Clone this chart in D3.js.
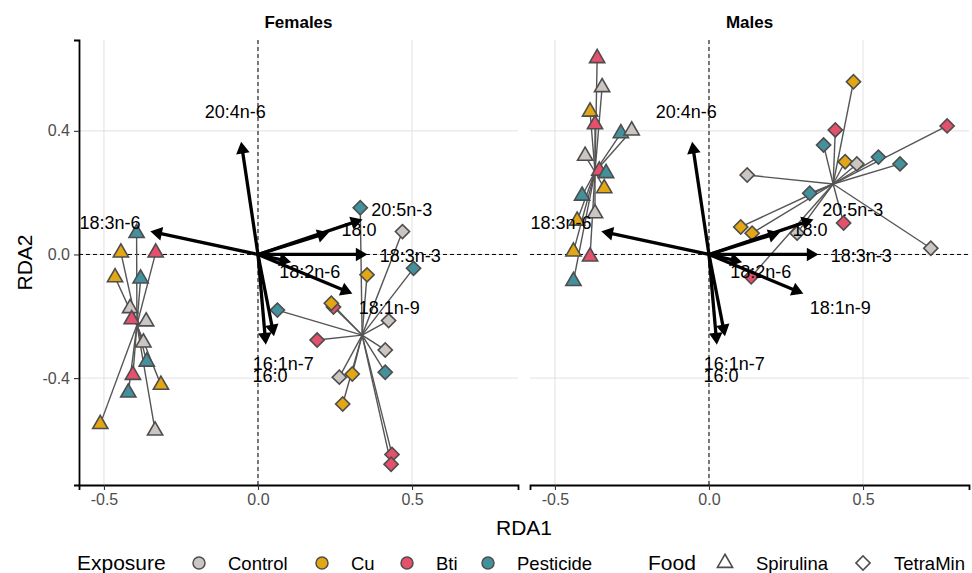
<!DOCTYPE html>
<html>
<head>
<meta charset="utf-8">
<script src="https://cdn.jsdelivr.net/npm/d3@7"></script>
<style>
  body { margin: 0; background: #fff; }
  svg { font-family: "Liberation Sans", Arial, sans-serif; }
</style>
</head>
<body>
<div id="chart"></div>
<script>
// categories
const panels = ["Females", "Males"];
const foods = ["Spirulina", "TetraMin"];
const exposures = ["Control", "Cu", "Bti", "Pesticide"];
const exposureColors = ["#CCC6C3", "#E3A713", "#E5506C", "#43919C"];
const xTicks = [-0.5, 0, 0.5];
const yTicks = [-0.4, 0, 0.4];

// site scores: [exposure, RDA1, RDA2]
const femalesSpirulina = [
    ["Pesticide", -0.394, 0.069], ["Cu", -0.445, 0.006], ["Bti", -0.332, 0.006],
    ["Cu", -0.464, -0.074], ["Pesticide", -0.381, -0.078], ["Control", -0.415, -0.174],
    ["Bti", -0.410, -0.210], ["Control", -0.363, -0.217], ["Control", -0.372, -0.285],
    ["Pesticide", -0.361, -0.347], ["Bti", -0.406, -0.390], ["Cu", -0.315, -0.422],
    ["Pesticide", -0.421, -0.447], ["Cu", -0.512, -0.549], ["Control", -0.334, -0.570]
];
const femalesTetraMin = [
    ["Control", 0.469, 0.074], ["Pesticide", 0.505, -0.045], ["Cu", 0.354, -0.066],
    ["Bti", 0.245, -0.170], ["Cu", 0.238, -0.158], ["Pesticide", 0.063, -0.180],
    ["Control", 0.424, -0.214], ["Bti", 0.192, -0.277], ["Control", 0.413, -0.309],
    ["Pesticide", 0.413, -0.381], ["Control", 0.264, -0.397], ["Cu", 0.306, -0.387],
    ["Cu", 0.275, -0.484], ["Bti", 0.435, -0.647], ["Bti", 0.432, -0.679],
    ["Pesticide", 0.332, 0.151]
];
const malesSpirulina = [
    ["Bti", -0.363, 0.635], ["Control", -0.347, 0.541], ["Cu", -0.386, 0.462],
    ["Bti", -0.370, 0.421], ["Pesticide", -0.286, 0.392], ["Control", -0.251, 0.401],
    ["Control", -0.402, 0.319], ["Bti", -0.356, 0.271], ["Pesticide", -0.334, 0.263],
    ["Cu", -0.340, 0.214], ["Pesticide", -0.412, 0.190], ["Control", -0.370, 0.133],
    ["Cu", -0.428, 0.109], ["Cu", -0.440, 0.009], ["Bti", -0.386, -0.007],
    ["Pesticide", -0.440, -0.086]
];
const malesTetraMin = [
    ["Cu", 0.469, 0.559], ["Bti", 0.773, 0.416], ["Bti", 0.410, 0.403],
    ["Pesticide", 0.372, 0.354], ["Cu", 0.442, 0.300], ["Control", 0.480, 0.293],
    ["Pesticide", 0.550, 0.315], ["Pesticide", 0.620, 0.293], ["Control", 0.124, 0.257],
    ["Pesticide", 0.327, 0.198], ["Bti", 0.437, 0.102], ["Cu", 0.103, 0.089],
    ["Cu", 0.140, 0.069], ["Control", 0.286, 0.069], ["Control", 0.720, 0.020],
    ["Bti", 0.137, -0.072]
];

// group centroids (spider centres)
const centroidPanel = ["Females", "Females", "Males", "Males"];
const centroidFood = ["Spirulina", "TetraMin", "Spirulina", "TetraMin"];
const centroidRDA1 = [-0.393, 0.338, -0.370, 0.403];
const centroidRDA2 = [-0.228, -0.261, 0.267, 0.228];

// fatty acid biplot arrows
const acids = ["16:0", "16:1n-7", "18:0", "18:1n-9", "18:2n-6", "18:3n-3", "18:3n-6", "20:4n-6", "20:5n-3"];
const acidRDA1 = [0.025, 0.051, 0.226, 0.302, 0.103, 0.351, -0.345, -0.054, 0.335];
const acidRDA2 = [-0.287, -0.260, 0.070, -0.125, -0.024, 0.000, 0.074, 0.360, 0.112];
const acidLabelRDA1 = [0.039, 0.082, 0.328, 0.426, 0.168, 0.494, -0.480, -0.074, 0.467];
const acidLabelRDA2 = [-0.393, -0.354, 0.079, -0.174, -0.056, -0.005, 0.103, 0.460, 0.144];

const siteData = {
    "Females": { "Spirulina": femalesSpirulina, "TetraMin": femalesTetraMin },
    "Males": { "Spirulina": malesSpirulina, "TetraMin": malesTetraMin }
};

const W = 972, H = 573;
const panelLeft = [79, 530];
const panelW = 439;
const panelTop = 40, panelBottom = 485;

const svg = d3.select("#chart").append("svg")
    .attr("width", W)
    .attr("height", H);

const xScale = d3.scaleLinear().domain([-0.581, 0.844]).range([0, panelW]);
const yScale = d3.scaleLinear().domain([-0.746, 0.694]).range([panelBottom, panelTop]);
const colorScale = d3.scaleOrdinal().domain(exposures).range(exposureColors);

// ggplot style ticks: plain hyphen for negatives
const tickFmt = d => d3.format(".1f")(d).replace("\u2212", "-");

const triangle = d3.symbol().type(d3.symbolTriangle).size(100);
const diamond = d3.symbol().type(d3.symbolSquare).size(100);

function markerPath(food) {
    return food === "Spirulina" ? triangle() : diamond();
}
function markerTransform(food, x, y) {
    return food === "Spirulina" ? `translate(${x},${y})` : `translate(${x},${y}) rotate(45)`;
}

panels.forEach(function (panel, pi) {
    const g = svg.append("g").attr("transform", `translate(${panelLeft[pi]},0)`);

    g.append("defs").append("clipPath").attr("id", "clip" + pi)
        .append("rect").attr("x", 0).attr("y", panelTop).attr("width", panelW).attr("height", panelBottom - panelTop);

    // grid
    g.selectAll(".vgrid").data(xTicks).enter().append("line")
        .attr("x1", d => xScale(d)).attr("x2", d => xScale(d))
        .attr("y1", panelTop).attr("y2", panelBottom)
        .attr("stroke", "#DEDEDE").attr("stroke-width", 0.9);
    g.selectAll(".hgrid").data(yTicks).enter().append("line")
        .attr("x1", 0).attr("x2", panelW)
        .attr("y1", d => yScale(d)).attr("y2", d => yScale(d))
        .attr("stroke", "#DEDEDE").attr("stroke-width", 0.9);

    const plot = g.append("g").attr("clip-path", `url(#clip${pi})`);

    // zero lines
    plot.append("line")
        .attr("x1", xScale(0)).attr("x2", xScale(0)).attr("y1", panelTop).attr("y2", panelBottom)
        .attr("stroke", "#000").attr("stroke-width", 1).attr("stroke-dasharray", "4,3");
    plot.append("line")
        .attr("x1", 0).attr("x2", panelW).attr("y1", yScale(0)).attr("y2", yScale(0))
        .attr("stroke", "#000").attr("stroke-width", 1).attr("stroke-dasharray", "4,3");

    // spiders
    centroidPanel.forEach(function (cp, ci) {
        if (cp !== panel) return;
        const food = centroidFood[ci];
        const cx = xScale(centroidRDA1[ci]), cy = yScale(centroidRDA2[ci]);
        plot.append("g").selectAll("line")
            .data(siteData[panel][food])
            .enter().append("line")
            .attr("x1", cx).attr("y1", cy)
            .attr("x2", d => xScale(d[1])).attr("y2", d => yScale(d[2]))
            .attr("stroke", "#555").attr("stroke-width", 1.4);
    });

    // points
    foods.forEach(function (food) {
        plot.append("g").selectAll("path")
            .data(siteData[panel][food])
            .enter().append("path")
            .attr("d", markerPath(food))
            .attr("transform", d => markerTransform(food, xScale(d[1]), yScale(d[2])))
            .attr("fill", d => colorScale(d[0]))
            .attr("stroke", "#4D4D4D")
            .attr("stroke-width", 1.6);
    });

    // arrows
    const ox = xScale(0), oy = yScale(0);
    const headLen = 11, headAng = Math.PI / 6;
    acids.forEach(function (acid, i) {
        const tx = xScale(acidRDA1[i]), ty = yScale(acidRDA2[i]);
        const ang = Math.atan2(ty - oy, tx - ox);
        const back = headLen * Math.cos(headAng);
        plot.append("line")
            .attr("x1", ox).attr("y1", oy)
            .attr("x2", tx - back * Math.cos(ang)).attr("y2", ty - back * Math.sin(ang))
            .attr("stroke", "#000").attr("stroke-width", 3.3);
        const p1 = [tx - headLen * Math.cos(ang - headAng), ty - headLen * Math.sin(ang - headAng)];
        const p2 = [tx - headLen * Math.cos(ang + headAng), ty - headLen * Math.sin(ang + headAng)];
        plot.append("path")
            .attr("d", `M${tx},${ty}L${p1[0]},${p1[1]}L${p2[0]},${p2[1]}Z`)
            .attr("fill", "#000").attr("stroke", "#000").attr("stroke-width", 1.5)
            .attr("stroke-linejoin", "miter");
    });

    plot.append("g").selectAll("text")
        .data(acids)
        .enter().append("text")
        .attr("x", (d, i) => xScale(acidLabelRDA1[i]))
        .attr("y", (d, i) => yScale(acidLabelRDA2[i]))
        .attr("text-anchor", "middle")
        .attr("dominant-baseline", "central")
        .attr("font-size", 18)
        .attr("fill", "#000")
        .text(d => d);

    // strip label
    g.append("text")
        .attr("x", panelW / 2).attr("y", 28)
        .attr("text-anchor", "middle")
        .attr("font-size", 17).attr("font-weight", "bold")
        .text(panel);

    // x axis
    const xAxis = d3.axisBottom(xScale).tickValues(xTicks).tickFormat(tickFmt).tickSize(5).tickPadding(4);
    g.append("g")
        .attr("transform", `translate(0,${panelBottom})`)
        .call(xAxis)
        .call(a => a.select(".domain").attr("stroke", "#000").attr("stroke-width", 1.8))
        .call(a => a.selectAll(".tick line").attr("stroke", "#333").attr("stroke-width", 1.1))
        .call(a => a.selectAll(".tick text").attr("fill", "#4D4D4D").attr("font-size", 16)
            .attr("font-family", "Liberation Sans, Arial, sans-serif"));

    if (pi === 0) {
        const yAxis = d3.axisLeft(yScale).tickValues(yTicks).tickFormat(tickFmt).tickSize(5).tickPadding(4);
        g.append("g")
            .call(yAxis)
            .call(a => a.select(".domain").attr("stroke", "#000").attr("stroke-width", 1.8))
            .call(a => a.selectAll(".tick line").attr("stroke", "#333").attr("stroke-width", 1.1))
            .call(a => a.selectAll(".tick text").attr("fill", "#4D4D4D").attr("font-size", 16)
                .attr("font-family", "Liberation Sans, Arial, sans-serif"));
    }
});

// axis titles
svg.append("text")
    .attr("x", (panelLeft[0] + panelLeft[1] + panelW) / 2).attr("y", 535)
    .attr("text-anchor", "middle").attr("font-size", 21)
    .text("RDA1");
svg.append("text")
    .attr("transform", `translate(32,${(panelTop + panelBottom) / 2}) rotate(-90)`)
    .attr("text-anchor", "middle").attr("font-size", 21)
    .text("RDA2");

// legend (layout positions of the keys along the bottom row)
const legend = svg.append("g").attr("transform", "translate(0,563)");
const exposureKeyX = [199, 322, 407, 488];
const foodKeyX = [725, 863];

legend.append("text").attr("x", 77).attr("y", 7).attr("font-size", 21).text("Exposure");
exposures.forEach(function (e, i) {
    legend.append("circle").attr("cx", exposureKeyX[i]).attr("cy", 0).attr("r", 6)
        .attr("fill", colorScale(e)).attr("stroke", "#4D4D4D").attr("stroke-width", 1.5);
    legend.append("text").attr("x", exposureKeyX[i] + 29).attr("y", 7)
        .attr("font-size", 18.5).text(e);
});
legend.append("text").attr("x", 648).attr("y", 7).attr("font-size", 21).text("Food");
foods.forEach(function (f, i) {
    legend.append("path").attr("d", markerPath(f))
        .attr("transform", markerTransform(f, foodKeyX[i], 0))
        .attr("fill", "none").attr("stroke", "#4D4D4D").attr("stroke-width", 1.6);
    legend.append("text").attr("x", foodKeyX[i] + 31).attr("y", 7)
        .attr("font-size", 18.5).text(f);
});
</script>
</body>
</html>
